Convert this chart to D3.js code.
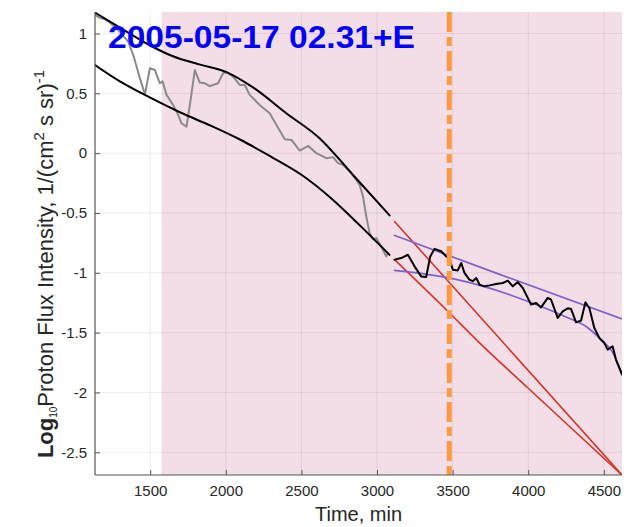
<!DOCTYPE html>
<html>
<head>
<meta charset="utf-8">
<script src="https://cdn.jsdelivr.net/npm/d3@7"></script>
<style>
  html, body { margin: 0; padding: 0; background: #fff; }
  svg { display: block; font-family: "Liberation Sans", Arial, Helvetica, sans-serif; }
</style>
</head>
<body>
<svg id="chart" width="642" height="527"></svg>
<script>
// ---------- data ----------
const xTicks = [1500, 2000, 2500, 3000, 3500, 4000, 4500];
const yTicks = [-2.5, -2, -1.5, -1, -0.5, 0, 0.5, 1];
const yTickLabels = ["-2.5", "-2", "-1.5", "-1", "-0.5", "0", "0.5", "1"];

const titleText = "2005-05-17 02.31+E";
const shadeStart = 1575;
const onsetTime = 3478;

// observed flux, earlier interval (grey)
const grayT = [1135,1169,1201,1234,1300,1355,1388,1432,1465,1498,1531,1564,1582,1608,1652,1685,1707,1740,1762,1795,1828,1861,1894,1949,1982,2004,2048,2092,2125,2158,2224,2290,2335,2390,2434,2489,2544,2599,2665,2709,2742,2775,2819,2863,2885,2907,2929,2951,2973,2995,3028,3061,3072];
const grayV = [1.153,1.13,1.12,1.09,1.015,0.93,0.82,0.626,0.49,0.71,0.695,0.584,0.60,0.487,0.403,0.32,0.25,0.222,0.40,0.695,0.59,0.584,0.56,0.584,0.668,0.68,0.64,0.57,0.57,0.487,0.403,0.334,0.236,0.117,0.111,0.022,0.061,0.0,-0.042,-0.033,-0.083,-0.098,-0.153,-0.223,-0.265,-0.36,-0.53,-0.668,-0.72,-0.71,-0.78,-0.863,-0.835];

// observed flux, later interval (black)
const blackT = [3116,3160,3204,3248,3292,3325,3352,3380,3424,3457,3479,3501,3534,3557,3578,3611,3633,3656,3678,3711,3744,3788,3832,3865,3898,3931,3964,4019,4052,4085,4129,4151,4195,4228,4261,4283,4316,4349,4378,4404,4437,4470,4503,4525,4558,4580,4607,4620];
const blackV = [-0.89,-0.877,-0.849,-0.946,-1.03,-1.035,-0.863,-0.80,-0.82,-0.863,-0.877,-0.974,-0.98,-0.918,-1.0,-1.057,-1.07,-1.043,-1.1,-1.113,-1.105,-1.093,-1.085,-1.066,-1.113,-1.077,-1.127,-1.266,-1.252,-1.289,-1.21,-1.225,-1.377,-1.322,-1.297,-1.302,-1.414,-1.4,-1.247,-1.294,-1.461,-1.545,-1.586,-1.642,-1.614,-1.725,-1.809,-1.85];

// envelope fits, earlier interval (black)
const upperFitT = [1135,1300,1500,1650,1830,2000,2180,2400,2620,2840,3083];
const upperFitV = [1.175,1.05,0.9,0.81,0.74,0.68,0.55,0.334,0.125,-0.18,-0.52];
const lowerFitT = [1135,1300,1500,1700,1900,2100,2300,2500,2700,2900,3083];
const lowerFitV = [0.737,0.6,0.464,0.34,0.23,0.11,-0.03,-0.18,-0.38,-0.62,-0.85];

// extrapolations (red)
const redUpperT = [3116, 4620];
const redUpperV = [-0.571, -2.69];
const redLowerT = [3116, 3475, 3678, 4000, 4620];
const redLowerV = [-0.89, -1.33, -1.586, -1.965, -2.69];

// envelope fits, later interval (purple)
const purpleUpperT = [3116, 3811, 4620];
const purpleUpperV = [-0.688, -1.013, -1.386];
const purpleLowerT = [3116,3500,3877,4030,4250,4380,4470,4560,4620];
const purpleLowerV = [-0.98,-1.049,-1.183,-1.255,-1.37,-1.447,-1.545,-1.67,-1.85];

// ---------- layout ----------
const svg = d3.select("#chart");
const L = 95, R = 622, T = 12, B = 475;
const x = d3.scaleLinear().domain([1135, 4620]).range([L, R]);
const y = d3.scaleLinear().domain([-2.69, 1.18]).range([B, T]);

svg.append("defs").append("clipPath").attr("id", "clip")
  .append("rect").attr("x", L).attr("y", T).attr("width", R - L).attr("height", B - T);

const plot = svg.append("g").attr("clip-path", "url(#clip)");

// shaded interval
plot.append("rect")
  .attr("x", x(shadeStart)).attr("y", T)
  .attr("width", x(4620) - x(shadeStart)).attr("height", B - T)
  .attr("fill", "#f3dde7");

// grid
plot.selectAll("line.gx").data(xTicks).enter().append("line")
  .attr("x1", d => x(d)).attr("x2", d => x(d)).attr("y1", T).attr("y2", B)
  .attr("stroke", "#000").attr("stroke-opacity", 0.07).attr("stroke-width", 1);
plot.selectAll("line.gy").data(yTicks).enter().append("line")
  .attr("y1", d => y(d)).attr("y2", d => y(d)).attr("x1", L).attr("x2", R)
  .attr("stroke", "#000").attr("stroke-opacity", 0.07).attr("stroke-width", 1);

const zip = (a, b) => a.map((t, i) => [t, b[i]]);
const straight = d3.line().x(d => x(d[0])).y(d => y(d[1]));
const smooth = d3.line().x(d => x(d[0])).y(d => y(d[1])).curve(d3.curveMonotoneX);

function draw(gen, data, color, width) {
  plot.append("path").attr("d", gen(data)).attr("fill", "none")
    .attr("stroke", color).attr("stroke-width", width)
    .attr("stroke-linejoin", "round").attr("stroke-linecap", "round");
}

draw(straight, zip(grayT, grayV), "#8a8a8a", 2);
draw(smooth, zip(upperFitT, upperFitV), "#000", 2);
draw(smooth, zip(lowerFitT, lowerFitV), "#000", 2);
draw(smooth, zip(redUpperT, redUpperV), "#d4352a", 1.6);
draw(smooth, zip(redLowerT, redLowerV), "#d4352a", 1.6);
draw(smooth, zip(purpleUpperT, purpleUpperV), "#7d62c9", 1.7);
draw(smooth, zip(purpleLowerT, purpleLowerV), "#7d62c9", 1.7);
draw(straight, zip(blackT, blackV), "#000", 2);

// onset line
plot.append("line")
  .attr("x1", x(onsetTime)).attr("x2", x(onsetTime)).attr("y1", T).attr("y2", B)
  .attr("stroke", "#ff9a40").attr("stroke-width", 5)
  .attr("stroke-dasharray", "20,5,9,5");

// axes
const axisColor = "#555";
const xAxis = svg.append("g").attr("transform", `translate(0,${B})`)
  .call(d3.axisBottom(x).tickValues(xTicks).tickSize(-5).tickPadding(10).tickFormat(d3.format("d")));
const yAxis = svg.append("g").attr("transform", `translate(${L},0)`)
  .call(d3.axisLeft(y).tickValues(yTicks).tickSize(-5).tickPadding(8).tickFormat((d, i) => yTickLabels[i]));
[xAxis, yAxis].forEach(g => {
  g.select(".domain").attr("stroke", axisColor).attr("stroke-width", 1.2);
  g.selectAll(".tick line").attr("stroke", axisColor);
  g.selectAll("text").attr("fill", "#262626").attr("font-size", 15)
    .attr("font-family", "'Liberation Sans', Arial, sans-serif");
});
xAxis.select(".domain").attr("d", `M${L},0H${R}`);
yAxis.select(".domain").attr("d", `M0,${B}V${T}`);

// axis labels
svg.append("text").attr("x", (L + R) / 2).attr("y", 521)
  .attr("text-anchor", "middle").attr("font-size", 20).attr("fill", "#262626")
  .text("Time, min");

const yl = svg.append("text")
  .attr("transform", "translate(53,264) rotate(-90)")
  .attr("text-anchor", "middle").attr("font-size", 22).attr("fill", "#262626");
yl.append("tspan").attr("font-weight", "bold").text("Log");
yl.append("tspan").attr("font-size", 10).attr("dy", 4).text("10");
yl.append("tspan").attr("dy", -4).text("Proton Flux Intensity, 1/(cm");
yl.append("tspan").attr("font-size", 15).attr("dy", -9).text("2");
yl.append("tspan").attr("dy", 9).text(" s sr)");
yl.append("tspan").attr("font-size", 15).attr("dy", -9).text("-1");

// title
svg.append("text").attr("x", 108).attr("y", 48)
  .attr("font-size", 32).attr("font-weight", "bold").attr("fill", "#0000ff")
  .attr("textLength", 307).attr("lengthAdjust", "spacingAndGlyphs")
  .text(titleText);
</script>
</body>
</html>
